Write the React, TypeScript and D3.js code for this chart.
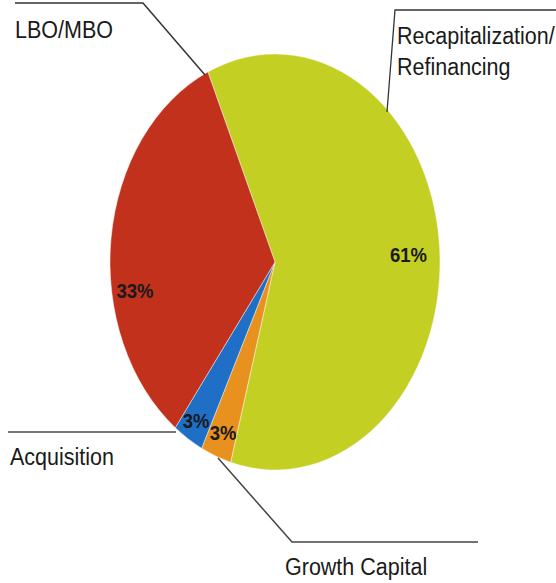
import React from "react";
import * as d3 from "d3";

const categories = ["Recapitalization/Refinancing", "Growth Capital", "Acquisition", "LBO/MBO"];
const values = [61, 3, 3, 33];
const pctLabels = ["61%", "3%", "3%", "33%"];
const colors = ["#c3cf23", "#e8911f", "#1f6fc6", "#c1311b"];

const W = 556, H = 583;
const cx = 275, cy = 262, rx = 165, ry = 208;
const startDeg = -24;
const labelR = [0.81, 0.876, 0.898, 0.86];
const labelDA = [1.7, 0, 0.4, -15.9];

export default function App() {
  const pie = d3.pie<number>().sort(null).value(d => d)
    .startAngle((startDeg * Math.PI) / 180)
    .endAngle((startDeg * Math.PI) / 180 + 2 * Math.PI);
  const arcs = pie(values);
  const arc = d3.arc<d3.PieArcDatum<number>>().innerRadius(0).outerRadius(rx);
  const sy = ry / rx;
  const pt = (a: number, k: number) => [cx + rx * k * Math.sin(a), cy - ry * k * Math.cos(a)];
  const font = "'Liberation Sans', Arial, sans-serif";
  const T = (x: number, y: number, s: string, size = 21.5, bold = false, anchor = "start") => (
    <text transform={`translate(${x},${y}) scale(1,1.13)`} fontFamily={font} fontSize={size}
      fontWeight={bold ? "bold" : "normal"} fill="#1a1a1a" textAnchor={anchor}>{s}</text>
  );
  return (
    <svg width={W} height={H} style={{ position: "absolute", left: 0, top: 0, background: "#fff" }}>
      <g transform={`translate(${cx},${cy}) scale(1,${sy})`}>
        {arcs.map((d, i) => (
          <path key={i} d={arc(d) || ""} fill={colors[i]} stroke="#ffffff" strokeWidth={0.4} />
        ))}
      </g>
      {arcs.map((d, i) => {
        const a = (d.startAngle + d.endAngle) / 2 + (labelDA[i] * Math.PI) / 180;
        const [x, y] = pt(a, labelR[i]);
        return <g key={"l" + i}>{T(x, y + 7.5, pctLabels[i], 18.5, true, "middle")}</g>;
      })}
      {/* leader lines */}
      <polyline points="15,3 143,3 205,75" fill="none" stroke="#333" strokeWidth={1.5} />
      <polyline points="556,10 395,10 387,112" fill="none" stroke="#333" strokeWidth={1.3} />
      <polyline points="8,432 176,432" fill="none" stroke="#777" strokeWidth={2} />
      <polyline points="218,458 292,542 478,542" fill="none" stroke="#444" strokeWidth={1.5} />
      {T(15, 38, categories[3])}
      {T(397, 44, "Recapitalization/")}
      {T(397, 75, "Refinancing")}
      {T(10, 465, categories[2])}
      {T(285, 575, categories[1])}
    </svg>
  );
}
